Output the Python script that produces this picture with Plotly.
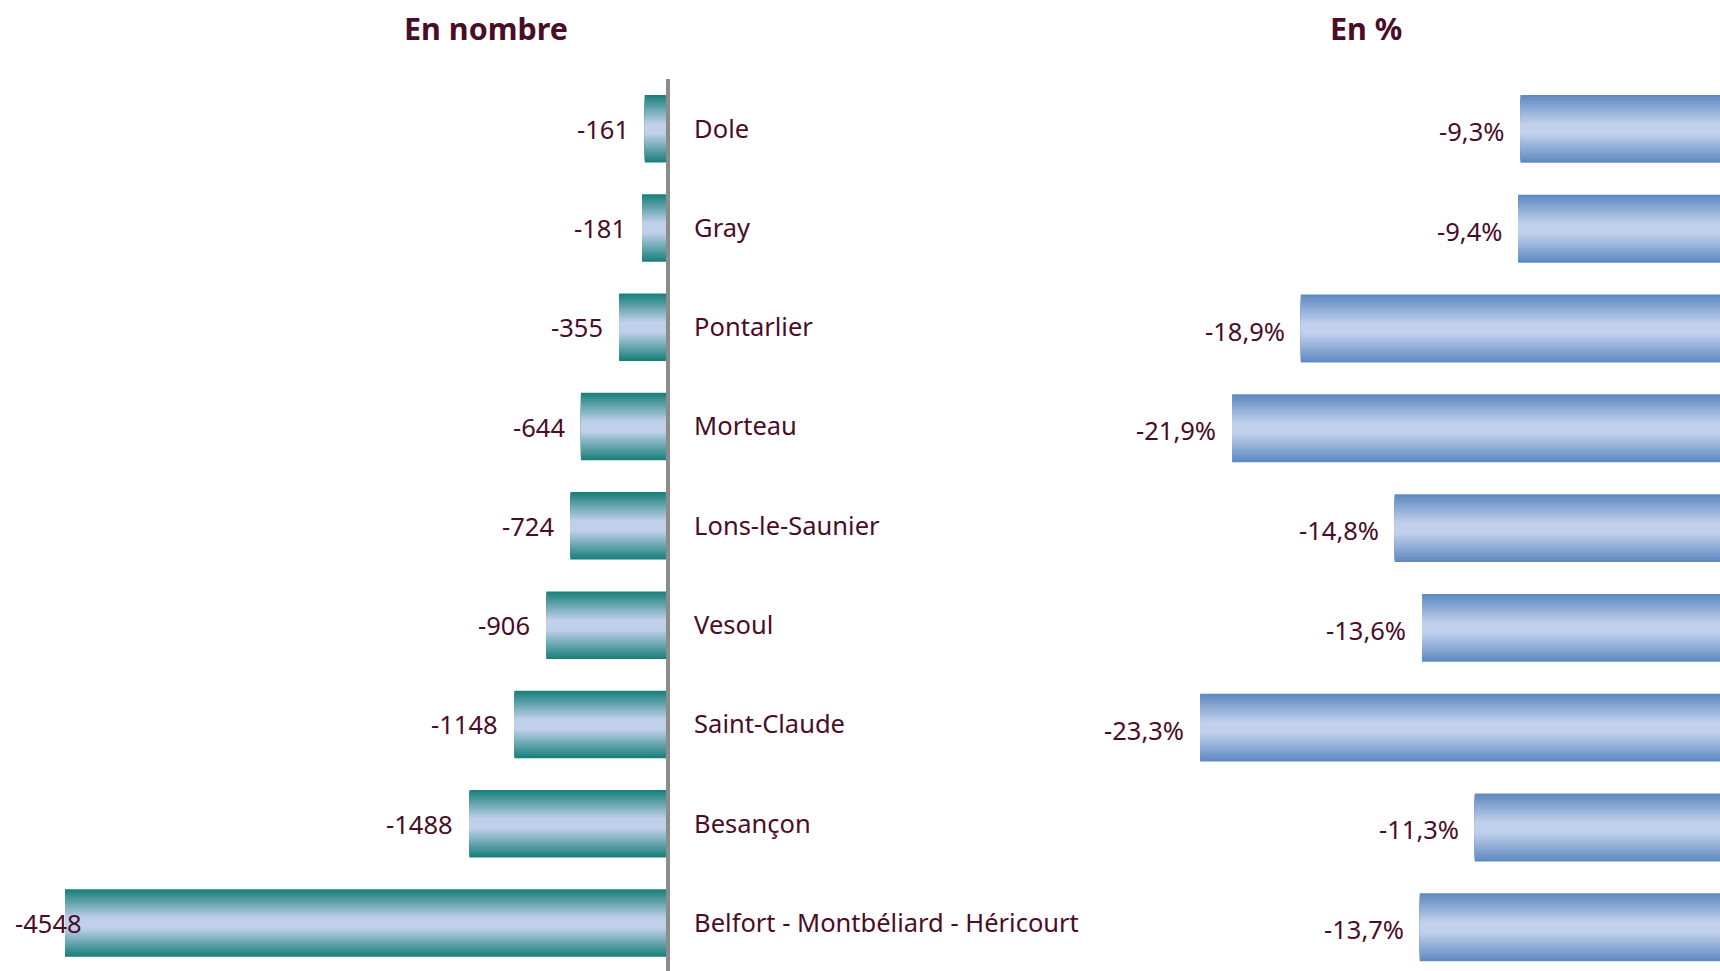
import plotly.graph_objects as go

# ---- data ----
categories = ["Dole", "Gray", "Pontarlier", "Morteau", "Lons-le-Saunier", "Vesoul",
              "Saint-Claude", "Besançon", "Belfort - Montbéliard - Héricourt"]
count_values = [-161, -181, -355, -644, -724, -906, -1148, -1488, -4548]
pct_values = [-9.3, -9.4, -18.9, -21.9, -14.8, -13.6, -23.3, -11.3, -13.7]
title_left = "En nombre"
title_right = "En %"

# ---- style ----
W, H = 1720, 971
TXT = "#4b0c27"
FONT = "Noto Sans"
FS = 25.5
TFS = 30.5
left_edge, left_center = (21, 126, 120), (192, 207, 234)
right_edge, right_center = (92, 136, 192), (193, 208, 236)
BARW = 0.68
N = 16


def mix(c1, c2, t):
    return "rgb(%d,%d,%d)" % tuple(round(a + (b - a) * t) for a, b in zip(c1, c2))


def grad_color(edge, center, d):
    t = min(max((d - 0.15) / 0.85, 0.0), 1.0)
    return mix(center, edge, t)


fig = go.Figure()
for k in range(N):
    d = 1 - k / N
    dm = d - 0.5 / N
    fig.add_trace(go.Bar(x=count_values, y=categories, orientation="h", width=BARW * d,
                         marker=dict(color=grad_color(left_edge, left_center, dm), line_width=0),
                         xaxis="x", yaxis="y", hoverinfo="skip", showlegend=False))
    fig.add_trace(go.Bar(x=pct_values, y=categories, orientation="h", width=BARW * d,
                         marker=dict(color=grad_color(right_edge, right_center, dm), line_width=0),
                         xaxis="x2", yaxis="y2", hoverinfo="skip", showlegend=False))

# axis geometry (pixels)
zero_left = 666
px_per_unit = 601 / 4548
left_min = -zero_left / px_per_unit
r_dom0, r_zero, px_per_pct = 900, 1733.2, 22.88
r_min = -(r_zero - r_dom0) / px_per_pct
r_max = -(r_zero - W) / px_per_pct
top = 79
ydom_top = 1 - top / H

annotations = []
for c, v in zip(categories, count_values):
    if v * px_per_unit < -0.85 * zero_left:
        annotations.append(dict(x=left_min, y=c, xref="x", yref="y", text=str(v), showarrow=False,
                                xanchor="left", xshift=13, font=dict(family=FONT, size=FS, color=TXT)))
    else:
        annotations.append(dict(x=v, y=c, xref="x", yref="y", text=str(v), showarrow=False,
                                xanchor="right", xshift=-14, font=dict(family=FONT, size=FS, color=TXT)))
for c, v in zip(categories, pct_values):
    annotations.append(dict(x=v, y=c, xref="x2", yref="y2", text=("%.1f" % v).replace(".", ",") + "%",
                            showarrow=False, xanchor="right", xshift=-14, yshift=-2,
                            font=dict(family=FONT, size=FS, color=TXT)))
annotations.append(dict(x=486 / W, y=1 - 28 / H, xref="paper", yref="paper", text="<b>%s</b>" % title_left,
                        showarrow=False, xanchor="center", yanchor="middle",
                        font=dict(family=FONT, size=TFS, color=TXT)))
annotations.append(dict(x=1366 / W, y=1 - 28 / H, xref="paper", yref="paper", text="<b>%s</b>" % title_right,
                        showarrow=False, xanchor="center", yanchor="middle",
                        font=dict(family=FONT, size=TFS, color=TXT)))

fig.update_layout(
    width=W, height=H, margin=dict(l=0, r=0, t=0, b=0),
    paper_bgcolor="white", plot_bgcolor="white", barmode="overlay",
    xaxis=dict(domain=[0, zero_left / W], range=[left_min, 0], visible=False, fixedrange=True),
    yaxis=dict(domain=[0, ydom_top], anchor="x", side="right", range=[8.483, -0.5],
               showline=True, linecolor="#8c8c8c", linewidth=4, ticks="", showgrid=False,
               zeroline=False, ticklabelstandoff=19,
               tickfont=dict(family=FONT, size=FS, color=TXT)),
    xaxis2=dict(domain=[r_dom0 / W, 1], range=[r_min, r_max], visible=False, fixedrange=True),
    yaxis2=dict(domain=[0, ydom_top], anchor="x2", range=[8.438, -0.5], visible=False),
    annotations=annotations,
)
fig.write_html("out.html", config={"displayModeBar": False},
               post_script="document.body.style.margin='0';document.body.style.overflow='hidden';")
